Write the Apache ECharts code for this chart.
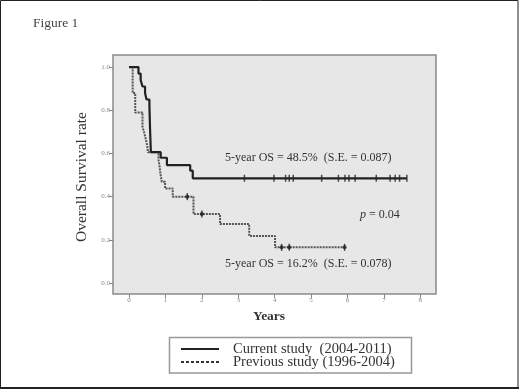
<!DOCTYPE html>
<html>
<head>
<meta charset="utf-8">
<script src="https://cdn.jsdelivr.net/npm/echarts@6/dist/echarts.min.js"></script>
<style>
  html, body { margin: 0; padding: 0; background: #fff; }
  #chart { width: 520px; height: 390px; }
</style>
</head>
<body>
<div id="chart"></div>
<script>
// Kaplan-Meier curves
const currentTimes = [0, 0.26, 0.32, 0.37, 0.44, 0.48, 0.56, 0.58, 0.60, 0.87, 1.04, 1.68, 1.75, 7.63]
const currentSurv  = [1.0, 0.97, 0.94, 0.91, 0.88, 0.85, 0.82, 0.70, 0.606, 0.58, 0.546, 0.52, 0.485, 0.485]
const currentCensor = [3.17, 3.98, 4.30, 4.40, 4.51, 5.29, 5.75, 5.93, 6.04, 6.21, 6.79, 7.17, 7.31, 7.43, 7.63]

const previousTimes = [0, 0.10, 0.17, 0.37, 0.41, 0.46, 0.50, 0.52, 0.81, 0.84, 0.86, 0.90, 0.99, 1.20, 1.77, 2.50, 3.30, 4.01, 5.92]
const previousSurv  = [1.0, 0.88, 0.79, 0.724, 0.70, 0.667, 0.636, 0.606, 0.57, 0.54, 0.508, 0.469, 0.438, 0.40, 0.319, 0.273, 0.218, 0.165, 0.165]
const previousCensor = [1.60, 2.00, 4.19, 4.40, 5.92]

const xTicks = [0, 1, 2, 3, 4, 5, 6, 7, 8]
const yTicks = [0, 0.2, 0.4, 0.6, 0.8, 1.0]
const legendNames = ['Current study  (2004-2011)', 'Previous study (1996-2004)']

const serif = '"Liberation Serif", "DejaVu Serif", serif'

function pairs(ts, ss) {
  return ts.map((t, i) => [t, ss[i]])
}
// survival value of the step curve at a censor time
function atTime(ts, ss, t) {
  let v = ss[0]
  for (let i = 0; i < ts.length; i++) {
    if (ts[i] <= t + 1e-9) v = ss[i]
  }
  return v
}
function censorPts(ts, ss, cs) {
  return cs.map(c => [c, atTime(ts, ss, c)])
}

const chart = echarts.init(document.getElementById('chart'))

const option = {
  backgroundColor: '#fff',
  animation: false,
  grid: {
    left: 113, right: 84, top: 55, bottom: 96,
    containLabel: false,
    show: true,
    backgroundColor: '#e7e7e7',
    borderColor: '#8a8a8a',
    borderWidth: 1.5
  },
  xAxis: {
    type: 'value',
    min: -0.44,
    max: 8.43,
    splitLine: { show: false },
    axisLine: { show: false, onZero: false },
    axisTick: { show: true, customValues: xTicks, length: 4, lineStyle: { color: '#888' } },
    axisLabel: { customValues: xTicks, fontSize: 7, color: '#888', margin: 3, fontFamily: serif }
  },
  yAxis: {
    type: 'value',
    min: -0.051,
    max: 1.056,
    splitLine: { show: false },
    axisLine: { show: false, onZero: false },
    axisTick: { show: true, customValues: yTicks, length: 4, lineStyle: { color: '#888' } },
    axisLabel: {
      customValues: yTicks, fontSize: 7, color: '#888', margin: 3, fontFamily: serif,
      formatter: v => v.toFixed(1)
    }
  },
  series: [
    {
      name: legendNames[1],
      type: 'line',
      step: 'end',
      symbol: 'none',
      data: pairs(previousTimes, previousSurv),
      lineStyle: { color: '#555', width: 2, type: [2, 1] },
      z: 3
    },
    {
      name: legendNames[0],
      type: 'line',
      step: 'end',
      symbol: 'none',
      data: pairs(currentTimes, currentSurv),
      lineStyle: { color: '#222', width: 2.2 },
      z: 4
    },
    {
      type: 'scatter',
      symbol: 'rect',
      symbolSize: [1.5, 7],
      itemStyle: { color: '#222' },
      data: censorPts(currentTimes, currentSurv, currentCensor).concat(
        censorPts(previousTimes, previousSurv, previousCensor)),
      z: 5
    },
    {
      type: 'scatter',
      symbol: 'circle',
      symbolSize: 4,
      itemStyle: { color: '#222' },
      data: censorPts(previousTimes, previousSurv, previousCensor),
      z: 5
    }
  ],
  graphic: [
    // outer frame
    { type: 'rect', shape: { x: 0.5, y: 0.5, width: 517.5, height: 387 }, style: { fill: null, stroke: '#222', lineWidth: 1 } },
    { type: 'line', shape: { x1: 0, y1: 388, x2: 519, y2: 388 }, style: { stroke: '#222', lineWidth: 2 } },
    { type: 'text', left: 33, top: 16, style: { text: 'Figure 1', font: '13.5px ' + serif, fill: '#444' } },
    // axis titles
    { type: 'text', x: 82, y: 177, rotation: Math.PI / 2,
      style: { text: 'Overall Survival rate', font: '15.5px ' + serif, fill: '#333', align: 'center', verticalAlign: 'middle' } },
    { type: 'text', x: 269, y: 317,
      style: { text: 'Years', font: 'bold 13.5px ' + serif, fill: '#333', align: 'center', verticalAlign: 'middle' } },
    // annotations
    { type: 'text', x: 225, y: 158,
      style: { text: '5-year OS = 48.5%  (S.E. = 0.087)', font: '12px ' + serif, fill: '#333', verticalAlign: 'middle' } },
    { type: 'text', x: 360, y: 215,
      style: { rich: { i: { font: 'italic 12px ' + serif, fill: '#333' }, n: { font: '12px ' + serif, fill: '#333' } },
               text: '{i|p}{n| = 0.04}', verticalAlign: 'middle' } },
    { type: 'text', x: 225, y: 264,
      style: { text: '5-year OS = 16.2%  (S.E. = 0.078)', font: '12px ' + serif, fill: '#333', verticalAlign: 'middle' } },
    // legend box
    { type: 'rect', shape: { x: 169.5, y: 337.5, width: 242, height: 35.5 }, style: { fill: '#fff', stroke: '#999', lineWidth: 1.5 } },
    { type: 'line', shape: { x1: 181, y1: 349, x2: 219, y2: 349 }, style: { stroke: '#222', lineWidth: 1.8 } },
    { type: 'line', shape: { x1: 181, y1: 362, x2: 219, y2: 362 }, style: { stroke: '#333', lineWidth: 1.8, lineDash: [3, 2] } },
    { type: 'text', x: 233, y: 349,
      style: { text: legendNames[0], font: '14.5px ' + serif, fill: '#333', verticalAlign: 'middle' } },
    { type: 'text', x: 233, y: 362,
      style: { text: legendNames[1], font: '14.5px ' + serif, fill: '#333', verticalAlign: 'middle' } }
  ]
}

chart.setOption(option)
</script>
</body>
</html>
